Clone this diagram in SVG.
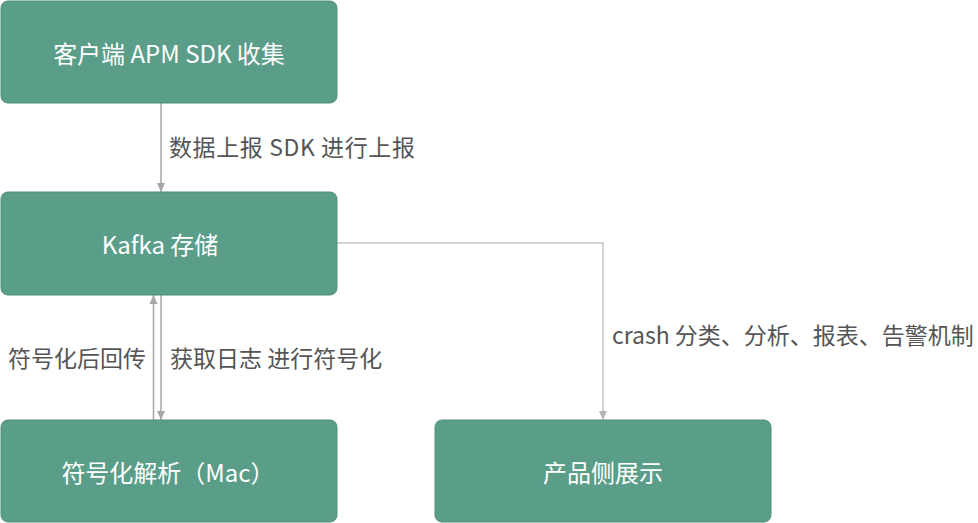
<svg xmlns="http://www.w3.org/2000/svg" width="978" height="523" viewBox="0 0 978 523">
<style>
.box{fill:#5A9E8A;stroke:#4E8E7B;stroke-width:1}
.bt{font-family:"Noto Sans CJK SC","Noto Sans",sans-serif;font-size:24px;fill:#ffffff;text-anchor:middle;dominant-baseline:central}
.lb{font-family:"Noto Sans CJK SC","Noto Sans",sans-serif;font-size:23px;fill:#555555;dominant-baseline:central}
.ln{fill:none;stroke:#A6A6A6;stroke-width:1.5}
.ln2{fill:none;stroke:#C4C4C4;stroke-width:1.5}
</style>
<defs>
<marker id="ah" markerWidth="10" markerHeight="10" refX="9" refY="5" orient="auto" markerUnits="userSpaceOnUse">
<path d="M0,1 L9,5 L0,9 Z" fill="#A6A6A6"/>
</marker>
<marker id="ah2" markerWidth="10" markerHeight="10" refX="9" refY="5" orient="auto" markerUnits="userSpaceOnUse">
<path d="M0,1 L9,5 L0,9 Z" fill="#B4B4B4"/>
</marker>
</defs>
<rect width="978" height="523" fill="#ffffff"/>
<g id="connectors">
<line class="ln" x1="161" y1="103" x2="161" y2="192" marker-end="url(#ah)"/>
<line class="ln" x1="153.5" y1="420" x2="153.5" y2="295" marker-end="url(#ah)"/>
<line class="ln" x1="161" y1="295" x2="161" y2="420" marker-end="url(#ah)"/>
<polyline class="ln2" points="337,243 603,243 603,420" marker-end="url(#ah2)"/>
<text class="lb" x="169" y="146" letter-spacing="0.6">数据上报 SDK 进行上报</text>
<text class="lb" x="8" y="357">符号化后回传</text>
<text class="lb" x="170" y="357">获取日志 进行符号化</text>
<text class="lb" x="612" y="334">crash 分类、分析、报表、告警机制</text>
</g>
<g id="n1"><rect class="box" x="1" y="1" width="336" height="102" rx="7"/><text class="bt" x="169" y="52">客户端 APM SDK 收集</text></g>
<g id="n2"><rect class="box" x="1" y="192" width="336" height="103" rx="7"/><text class="bt" x="160" y="243">Kafka 存储</text></g>
<g id="n3"><rect class="box" x="1" y="420" width="336" height="102" rx="7"/><text class="bt" x="168" y="471">符号化解析（Mac）</text></g>
<g id="n4"><rect class="box" x="435" y="420" width="336" height="102" rx="7"/><text class="bt" x="603" y="471">产品侧展示</text></g>
</svg>
